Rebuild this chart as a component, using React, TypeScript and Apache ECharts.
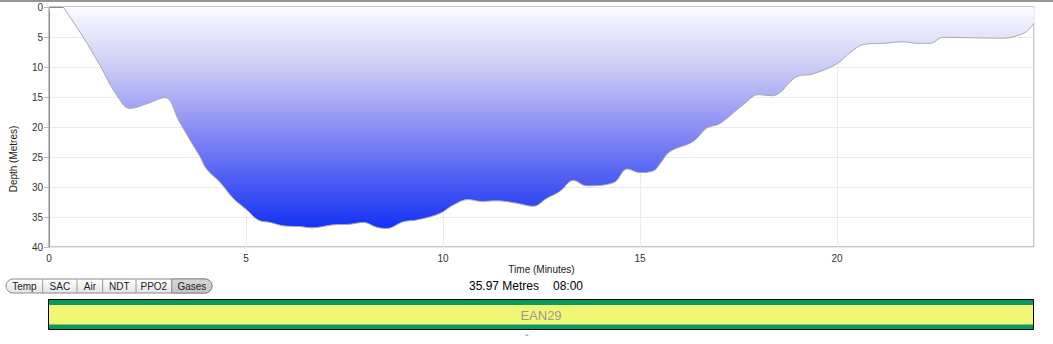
import React, { useEffect, useRef } from "react";
import * as echarts from "echarts";

// Dive profile: time (minutes) and depth (metres)
const times = [
  0.36, 0.86, 1.29, 1.72, 2.06, 2.5, 2.94, 3.3, 3.58, 3.83, 4.0, 4.34, 4.68, 5.02, 5.31, 5.61, 5.99,
  6.37, 6.67, 7.22, 7.64, 7.98, 8.32, 8.57, 8.99, 9.33, 9.92, 10.26, 10.64, 10.98, 11.36, 11.87,
  12.29, 12.63, 12.97, 13.31, 13.65, 14.32, 14.68, 15.0, 15.34, 15.51, 15.76, 16.35, 16.69, 17.03,
  17.62, 18.02, 18.34, 19.02, 19.36, 19.99, 20.33, 20.71, 21.18, 21.68, 22.02, 22.36, 22.7, 23.21,
  24.22, 24.56, 24.81, 25.0,
];
const depths = [
  0, 4.95, 9.7, 14.7, 16.9, 16.1, 15.1, 19.0, 22.2, 24.9, 27.0, 29.2, 31.9, 33.8, 35.5, 35.9, 36.5,
  36.6, 36.8, 36.3, 36.2, 35.9, 36.7, 36.9, 35.8, 35.5, 34.4, 33.0, 32.1, 32.4, 32.3, 32.7,
  33.2, 31.9, 30.7, 28.9, 29.8, 29.3, 27.0, 27.6, 27.3, 26.1, 24.1, 22.4, 20.2, 19.4,
  16.3, 14.6, 14.8, 11.5, 11.2, 9.5, 7.6, 6.2, 6.05, 5.8, 6.05, 6.05, 5.05, 5.1,
  5.2, 4.8, 4.1, 2.7,
];
const buttonLabels = ["Temp", "SAC", "Air", "NDT", "PPO2", "Gases"];
const buttonEdges = [6, 42.7, 77, 102.7, 136, 171.7, 212];
const selectedButton = "Gases";
const statusDepth = "35.97 Metres";
const statusTime = "08:00";
const gasLabel = "EAN29";

const FONT = "'Liberation Sans', Arial, Helvetica, sans-serif";

export default function App() {
  const ref = useRef<HTMLDivElement>(null);
  useEffect(() => {
    if (!ref.current) return;
    const chart = echarts.init(ref.current, undefined, { renderer: "svg" });
    const data = times.map((t, i) => [t, depths[i]]);

    const btnTop = 279;
    const btnH = 14;
    const buttons: any[] = [];
    buttons.push({
      type: "rect",
      shape: { x: buttonEdges[0], y: btnTop, width: buttonEdges[6] - buttonEdges[0], height: btnH, r: 7 },
      style: {
        fill: new echarts.graphic.LinearGradient(0, 0, 0, 1, [
          { offset: 0, color: "#ffffff" },
          { offset: 1, color: "#e4e4e4" },
        ]),
        stroke: "#8a8a8a",
        lineWidth: 1,
      },
    });
    buttonLabels.forEach((lab, i) => {
      const x0 = buttonEdges[i];
      const x1 = buttonEdges[i + 1];
      if (lab === selectedButton) {
        const last = i === buttonLabels.length - 1;
        buttons.push({
          type: "rect",
          shape: { x: x0, y: btnTop, width: x1 - x0, height: btnH, r: last ? [0, 7, 7, 0] : 0 },
          style: {
            fill: new echarts.graphic.LinearGradient(0, 0, 0, 1, [
              { offset: 0, color: "#d8d8d8" },
              { offset: 1, color: "#c4c4c4" },
            ]),
            stroke: "#8a8a8a",
            lineWidth: 1,
          },
        });
      }
      if (i > 0) {
        buttons.push({
          type: "line",
          shape: { x1: x0, y1: btnTop, x2: x0, y2: btnTop + btnH },
          style: { stroke: "#9a9a9a", lineWidth: 1 },
        });
      }
      buttons.push({
        type: "text",
        x: (x0 + x1) / 2,
        y: btnTop + btnH / 2 + 0.5,
        style: {
          text: lab,
          align: "center",
          verticalAlign: "middle",
          fontSize: 10,
          fontFamily: FONT,
          fill: "#222",
        },
      });
    });

    chart.setOption({
      animation: false,
      backgroundColor: "#ffffff",
      grid: {
        left: 49,
        top: 7,
        width: 985,
        height: 240,
        show: true,
        borderColor: "#8c8c8c",
        borderWidth: 1,
        backgroundColor: "transparent",
      },
      xAxis: {
        type: "value",
        min: 0,
        max: 25,
        interval: 5,
        axisLine: { show: true, lineStyle: { color: "#8c8c8c", width: 1 } },
        axisTick: { show: true, length: 4, lineStyle: { color: "#bbb" } },
        axisLabel: { fontSize: 10, color: "#333", margin: 6, showMaxLabel: false, fontFamily: FONT },
        splitLine: { show: true, lineStyle: { color: "#ebebeb", width: 1 } },
      },
      yAxis: {
        type: "value",
        inverse: true,
        min: 0,
        max: 40,
        interval: 5,
        axisLine: { show: true, lineStyle: { color: "#8c8c8c", width: 1 } },
        axisTick: { show: true, length: 5, lineStyle: { color: "#bbb" } },
        axisLabel: { fontSize: 10, color: "#333", margin: 6, fontFamily: FONT },
        splitLine: { show: true, lineStyle: { color: "#ebebeb", width: 1 } },
      },
      series: [
        {
          type: "line",
          data,
          smooth: 0.4,
          showSymbol: false,
          lineStyle: { color: "#a8a8a8", width: 1 },
          areaStyle: {
            origin: "start",
            opacity: 1,
            color: new echarts.graphic.LinearGradient(0, 0, 0, 1, [
              { offset: 0, color: "#fbfbff" },
              { offset: 0.28, color: "#c9caf5" },
              { offset: 0.55, color: "#8a8df4" },
              { offset: 1, color: "#1431f4" },
            ]),
          },
        },
      ],
      graphic: [
        {
          type: "rect",
          shape: { x: 0, y: 0, width: 1053, height: 2 },
          style: { fill: "#959595" },
        },
        {
          type: "text",
          x: 541.5,
          y: 269.5,
          style: {
            text: "Time (Minutes)",
            align: "center",
            verticalAlign: "middle",
            fontSize: 10,
            fontFamily: FONT,
            fill: "#222",
          },
        },
        {
          type: "text",
          x: 13,
          y: 159,
          rotation: Math.PI / 2,
          style: {
            text: "Depth (Metres)",
            align: "center",
            verticalAlign: "middle",
            fontSize: 10,
            fontFamily: FONT,
            fill: "#222",
          },
        },
        ...buttons,
        {
          type: "text",
          x: 469,
          y: 285.5,
          style: { text: statusDepth, align: "left", verticalAlign: "middle", fontSize: 12, fontFamily: FONT, fill: "#000" },
        },
        {
          type: "text",
          x: 553,
          y: 285.5,
          style: { text: statusTime, align: "left", verticalAlign: "middle", fontSize: 12, fontFamily: FONT, fill: "#000" },
        },
        {
          type: "rect",
          shape: { x: 48.5, y: 299.5, width: 985, height: 30 },
          style: { fill: "#089a5e", stroke: "#000", lineWidth: 1 },
        },
        {
          type: "rect",
          shape: { x: 49, y: 305, width: 984, height: 19.5 },
          style: { fill: "#f1f774" },
        },
        {
          type: "text",
          x: 541,
          y: 315,
          style: { text: gasLabel, align: "center", verticalAlign: "middle", fontSize: 13, fontFamily: FONT, fill: "#9a9a9a" },
        },
        {
          type: "text",
          x: 527,
          y: 339,
          style: { text: "ˆ", align: "center", verticalAlign: "middle", fontSize: 10, fontFamily: FONT, fill: "#888" },
        },
      ],
    });
    return () => chart.dispose();
  }, []);
  return (
    <div
      ref={ref}
      style={{ position: "absolute", left: 0, top: 0, width: 1053, height: 344, background: "#fff" }}
    />
  );
}
